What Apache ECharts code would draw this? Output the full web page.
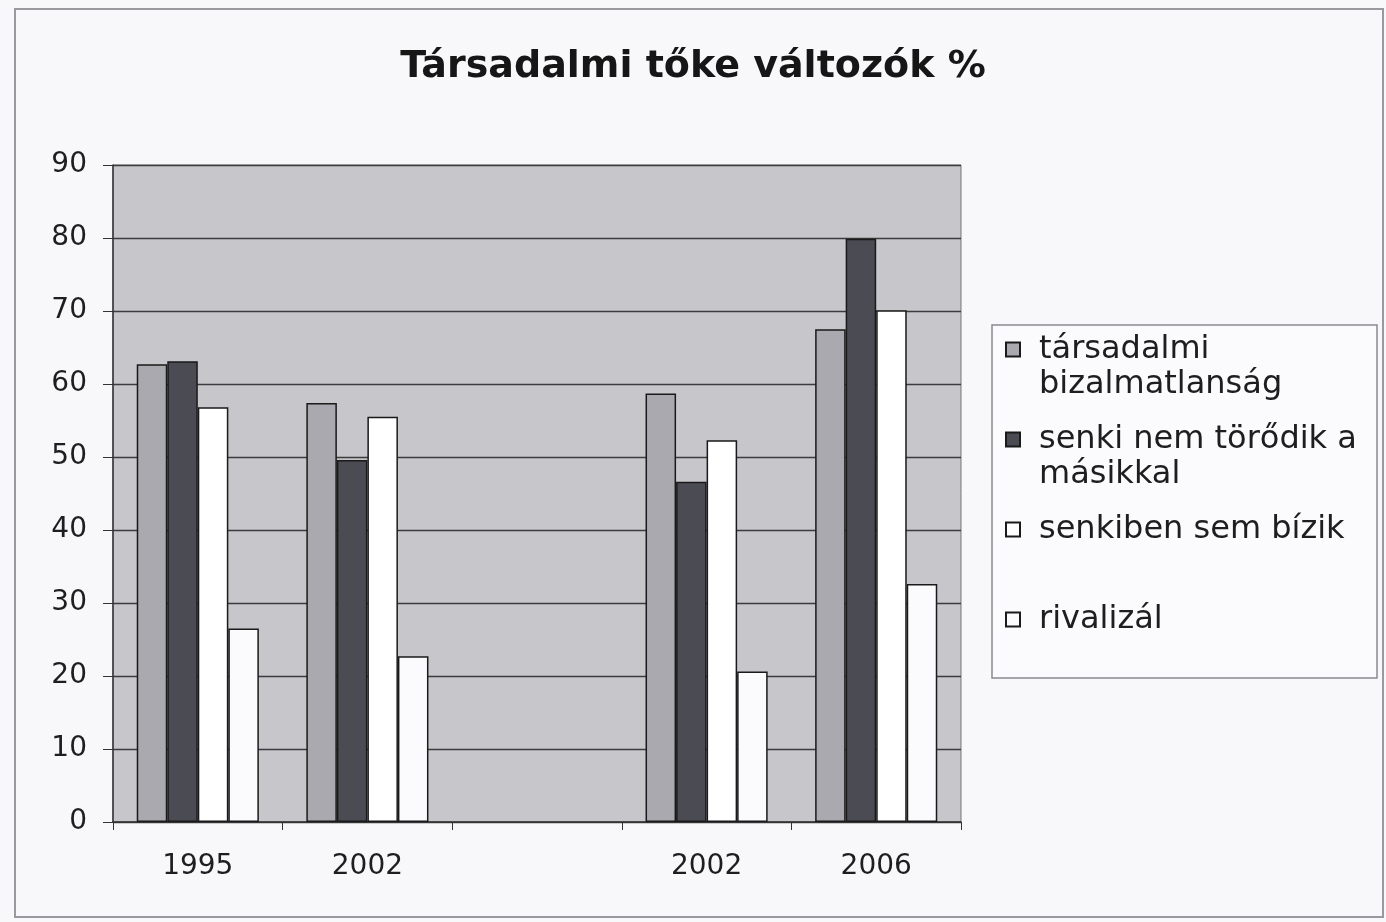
<!DOCTYPE html>
<html>
<head>
<meta charset="utf-8">
<script src="https://cdn.jsdelivr.net/npm/echarts@6/dist/echarts.min.js"></script>
<style>
html,body{margin:0;padding:0;background:#f8f8fb;}
#chart{width:1386px;height:922px;}
</style>
</head>
<body>
<div id="chart"></div>
<script>
// ---- data ----
const titleText = 'Társadalmi tőke változók %';
const categories = ['1995', '2002', '', '2002', '2006'];
const seriesNames = ['társadalmi bizalmatlanság', 'senki nem törődik a másikkal', 'senkiben sem bízik', 'rivalizál'];
const legendLabels = ['társadalmi\nbizalmatlanság', 'senki nem törődik a\nmásikkal', 'senkiben sem bízik\n ', 'rivalizál\n '];
const bizalmatlansag = [62.7, 57.4, null, 58.7, 67.5];
const senkiNemTorodik = [63.1, 49.6, null, 46.6, 79.9];
const senkibenSemBizik = [56.8, 55.5, null, 52.3, 70.1];
const rivalizal = [26.5, 22.7, null, 20.6, 32.6];
const yTicks = { min: 0, max: 90, interval: 10 };

// ---- styles ----
const seriesValues = [bizalmatlansag, senkiNemTorodik, senkibenSemBizik, rivalizal];
const seriesColors = ['#a9a9af', '#4b4b53', '#ffffff', '#fbfbfd'];
const font = 'DejaVu Sans';
const legendIcon = 'path://M0,0M0,10.5h14v14h-14zM28,70';

const chart = echarts.init(document.getElementById('chart'), null, { renderer: 'canvas' });

const option = {
  backgroundColor: '#f8f8fb',
  animation: false,
  title: {
    text: titleText,
    left: 'center',
    top: 43,
    textStyle: { fontFamily: font, fontWeight: 'bold', fontSize: 38, color: '#161616' }
  },
  grid: {
    left: 113, right: 425, top: 165, bottom: 100,
    show: true,
    backgroundColor: '#c6c6cb',
    borderColor: '#777',
    borderWidth: 1
  },
  legend: {
    orient: 'vertical',
    left: 1005,
    top: 331,
    padding: 0,
    itemGap: 18,
    itemWidth: 28,
    itemHeight: 70,
    icon: legendIcon,
    selectedMode: false,
    data: seriesNames,
    formatter: function (name) { return legendLabels[seriesNames.indexOf(name)]; },
    textStyle: { fontFamily: font, fontSize: 32, lineHeight: 35, color: '#1e1e1e' }
  },
  xAxis: {
    type: 'category',
    data: categories,
    axisLine: { lineStyle: { color: '#333', width: 1.5 } },
    axisTick: { show: true, length: 8, inside: false, lineStyle: { color: '#333' } },
    axisLabel: { fontFamily: font, fontSize: 28, color: '#1e1e1e', margin: 31 },
    splitLine: { show: false }
  },
  yAxis: {
    type: 'value',
    min: yTicks.min,
    max: yTicks.max,
    interval: yTicks.interval,
    axisLine: { show: true, lineStyle: { color: '#333', width: 1.5 } },
    axisTick: { show: true, length: 10, lineStyle: { color: '#333' } },
    axisLabel: { fontFamily: font, fontSize: 28, color: '#1e1e1e', margin: 26 },
    splitLine: { show: true, lineStyle: { color: '#3c3c3c', width: 1.3 } }
  },
  graphic: [
    {
      type: 'rect',
      shape: { x: 15, y: 9, width: 1368, height: 908 },
      style: { fill: 'none', stroke: '#9a9a9e', lineWidth: 2 },
      z: -1
    },
    {
      type: 'rect',
      shape: { x: 992, y: 325, width: 385, height: 353 },
      style: { fill: '#fbfbfd', stroke: '#8a8a8e', lineWidth: 1.5 },
      z: -1
    }
  ],
  series: seriesNames.map(function (name, i) {
    return {
      name: name,
      type: 'bar',
      data: seriesValues[i],
      barGap: '0%',
      barCategoryGap: '28%',
      itemStyle: { color: seriesColors[i], borderColor: '#1a1a1a', borderWidth: 1.5 }
    };
  })
};
chart.setOption(option);
</script>
</body>
</html>
